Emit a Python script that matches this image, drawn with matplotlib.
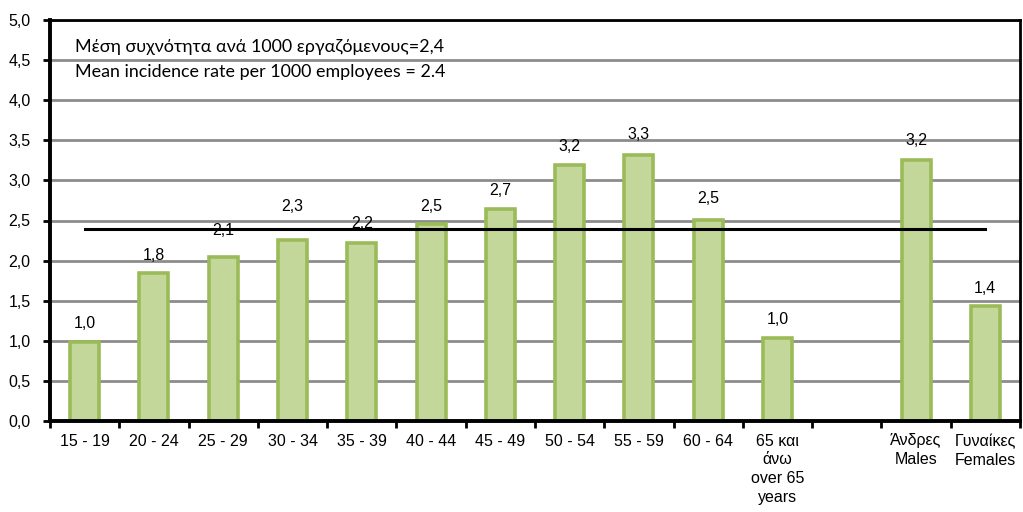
import matplotlib
matplotlib.use("Agg")
import matplotlib.pyplot as plt
import numpy as np

categories = ["15 - 19", "20 - 24", "25 - 29", "30 - 34", "35 - 39", "40 - 44",
              "45 - 49", "50 - 54", "55 - 59", "60 - 64",
              "65 και\nάνω\nover 65\nyears", "", "Άνδρες\nMales", "Γυναίκες\nFemales"]
values = [0.99, 1.85, 2.04, 2.26, 2.22, 2.46, 2.64, 3.19, 3.32, 2.51, 1.04, np.nan, 3.25, 1.43]
value_labels = ["1,0", "1,8", "2,1", "2,3", "2,2", "2,5", "2,7", "3,2", "3,3", "2,5", "1,0", "", "3,2", "1,4"]
mean_rate = 2.4
note_lines = ["Μέση συχνότητα ανά 1000 εργαζόμενους=2,4",
              "Mean incidence rate per 1000 employees = 2.4"]
yticks = np.arange(0, 5.01, 0.5)

# extra lift for a couple of labels as placed in the original
label_lift = [0.22, 0.21, 0.34, 0.42, 0.24, 0.22, 0.24, 0.23, 0.25, 0.26, 0.23, 0.0, 0.25, 0.22]

plt.rcParams['font.family'] = ['Liberation Sans', 'DejaVu Sans']
FS = 11.5

fig = plt.figure(figsize=(10.23, 5.12), dpi=100)
ax = fig.add_axes([50/1023, 1-421/512, 970/1023, 401/512])

n = len(categories)
x = np.arange(n)
ax.bar(x, values, width=0.42, color="#C4D79B", edgecolor="#9BBB59", linewidth=2.6, zorder=3)

for xi, v, lab, lift in zip(x, values, value_labels, label_lift):
    if lab and not np.isnan(v):
        ax.text(xi, v + lift, lab, ha="center", va="center", fontsize=FS, color="black", zorder=5)

ax.plot([x[0], x[-1]], [mean_rate, mean_rate], color="black", linewidth=2.2, zorder=4)

ax.set_xlim(-0.5, n - 0.5)
ax.set_ylim(0, 5.0)
ax.set_yticks(yticks)
ax.set_yticklabels([f"{t:.1f}".replace(".", ",") for t in yticks], fontsize=FS)
ax.yaxis.grid(True, color="#8C8C8C", linewidth=2.0, zorder=0)
ax.set_axisbelow(True)

ax.set_xticks(np.arange(-0.5, n, 1.0))
ax.set_xticklabels([])
ax.set_xticks(x, minor=True)
ax.set_xticklabels(categories, minor=True, fontsize=FS, linespacing=1.32, va="top")
ax.tick_params(axis="x", which="minor", length=0, pad=9)
ax.tick_params(axis="x", which="major", length=5, width=2, direction="out")
ax.tick_params(axis="y", length=5, width=2, direction="out", pad=9)

for side in ["left", "bottom"]:
    ax.spines[side].set_linewidth(2.8)
for side in ["top", "right"]:
    ax.spines[side].set_linewidth(2.0)
for s in ax.spines.values():
    s.set_color("black")
    s.set_zorder(6)

ax.text(25/970, 1 - 27/401, note_lines[0], transform=ax.transAxes, fontsize=12.9,
        family=["Lato", "DejaVu Sans"], va="center", ha="left", zorder=6)
ax.text(25/970, 1 - 52/401, note_lines[1], transform=ax.transAxes, fontsize=12.9,
        family=["Lato", "DejaVu Sans"], va="center", ha="left", zorder=6)

fig.savefig("out.png", dpi=100)
